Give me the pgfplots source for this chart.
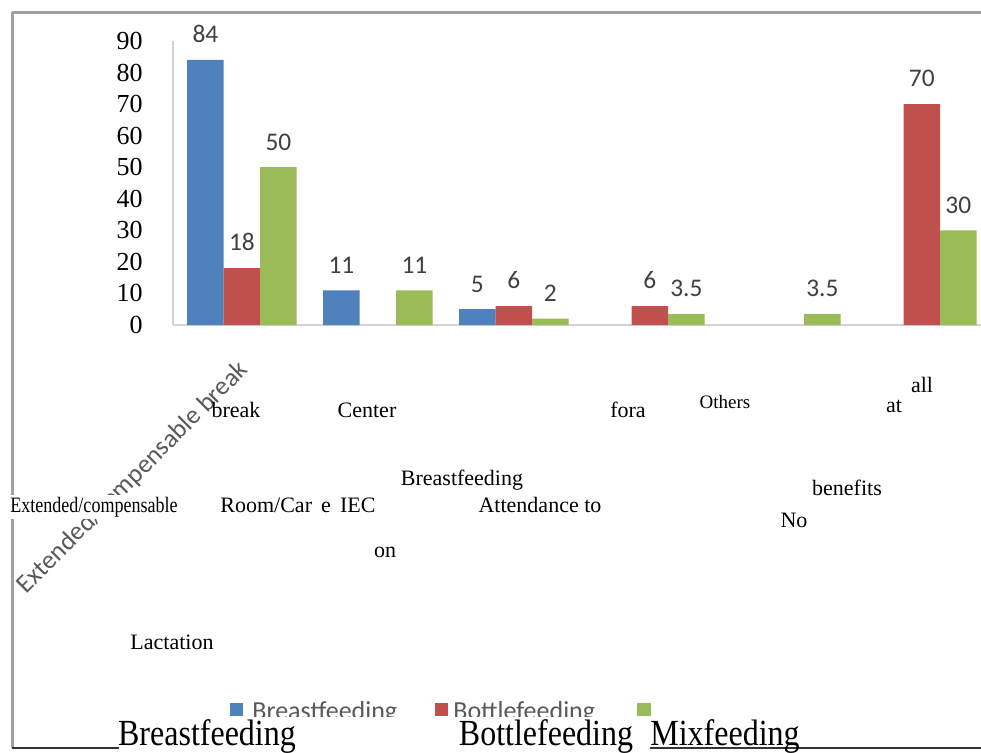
\documentclass[border=0pt]{standalone}
\usepackage{fontspec}
\setmainfont{Liberation Serif}
\newfontfamily\calibri{Carlito}
\usepackage{pgfplots}
\pgfplotsset{compat=1.18}
\definecolor{bfblue}{HTML}{4F81BD}
\definecolor{bfred}{HTML}{C0504D}
\definecolor{bfgreen}{HTML}{9BBB59}
\definecolor{lblgray}{HTML}{404040}
\definecolor{leggray}{HTML}{595959}
\definecolor{framegray}{HTML}{A0A0A0}

\begin{document}
\begin{tikzpicture}[x=0.5bp, y=-0.5bp]
\useasboundingbox (0,0) rectangle (981,753);
\fill[white] (0,0) rectangle (981,753);
\coordinate (A) at (173,325);

% outer frame
\draw[framegray, line width=1.5bp] (12,12) -- (981,12);
\draw[framegray, line width=1.5bp] (12,12) -- (12,748);

% rotated category label (partly hidden later)
\node[font=\calibri\fontsize{13bp}{13bp}\selectfont, text=leggray, rotate=45] at (133,478) {Extended/compensable break};

\begin{scope}[x=1cm, y=1cm]
\begin{axis}[
    at={(A)}, anchor=south west,
    scale only axis, width=404bp, height=142bp,
    xmin=-0.507, xmax=5.435, ymin=0, ymax=90,
    ybar=0pt, bar width=18.25bp,
    axis x line*=bottom, axis y line*=left,
    axis line style={draw=gray!35, line width=0.9bp, -},
    xtick=\empty, ytick={0,10,...,90}, major tick length=0pt,
    /pgf/number format/assume math mode=true,
    yticklabel style={font=\fontsize{13bp}{13bp}\selectfont, anchor=east, inner sep=0pt, xshift=-15bp},
    nodes near coords,
    nodes near coords style={font=\calibri\fontsize{12.7bp}{12.7bp}\selectfont, text=lblgray, yshift=5bp},
    clip=false,
]
% Breastfeeding
\addplot[fill=bfblue, draw=none] coordinates {(0,84) (1,11) (2,5)};
% Bottlefeeding
\addplot[fill=bfred, draw=none] coordinates {(0,18) (2,6) (3,6) (5,70)};
% Mixfeeding
\addplot[fill=bfgreen, draw=none] coordinates {(0,50) (1,11) (2,2) (3,3.5) (4,3.5) (5,30)};
\end{axis}
\end{scope}

% scattered category words
\tikzset{tw/.style={font=\fontsize{11bp}{11bp}\selectfont, anchor=base, inner sep=1bp}}
\node[tw, fill=white, xscale=0.82] at (94,512) {Extended/compensable};
\node[tw] at (236,417) {break};
\node[tw] at (367,417) {Center};
\node[tw] at (628,417) {fora};
\node[tw, font=\fontsize{9.5bp}{9.5bp}\selectfont] at (725,408) {Others};
\node[tw] at (894,412) {at};
\node[tw] at (922,392) {all};
\node[tw] at (462,485) {Breastfeeding};
\node[tw] at (298,512) {Room/Car\, e\, IEC};
\node[tw] at (540,512) {Attendance to};
\node[tw] at (847,495) {benefits};
\node[tw] at (794,527) {No};
\node[tw] at (385,557) {on};
\node[tw] at (172,649) {Lactation};

% legend (cut off at the bottom)
\fill[bfblue] (230,703) rectangle (243,716);
\node[font=\calibri\fontsize{13bp}{13bp}\selectfont, text=leggray, anchor=base west, inner sep=0pt] at (252,719) {Breastfeeding};
\fill[bfred] (435,703) rectangle (448,716);
\node[font=\calibri\fontsize{13bp}{13bp}\selectfont, text=leggray, anchor=base west, inner sep=0pt] at (453,719) {Bottlefeeding};
\fill[bfgreen] (637,703) rectangle (651,716);
\fill[white] (119,717) rectangle (650,753);

% bottom line and big series words
\draw[black!80, line width=1bp] (12,748) -- (119,748);
\draw[black!80, line width=1bp] (650,748) -- (981,748);
\tikzset{bw/.style={font=\fontsize{16bp}{16bp}\selectfont, anchor=base, inner sep=0pt, yscale=1.15}}
\node[bw] at (207,745) {Breastfeeding};
\node[bw] at (546,745) {Bottlefeeding};
\node[bw] at (725,745) {Mixfeeding};
\end{tikzpicture}
\end{document}
